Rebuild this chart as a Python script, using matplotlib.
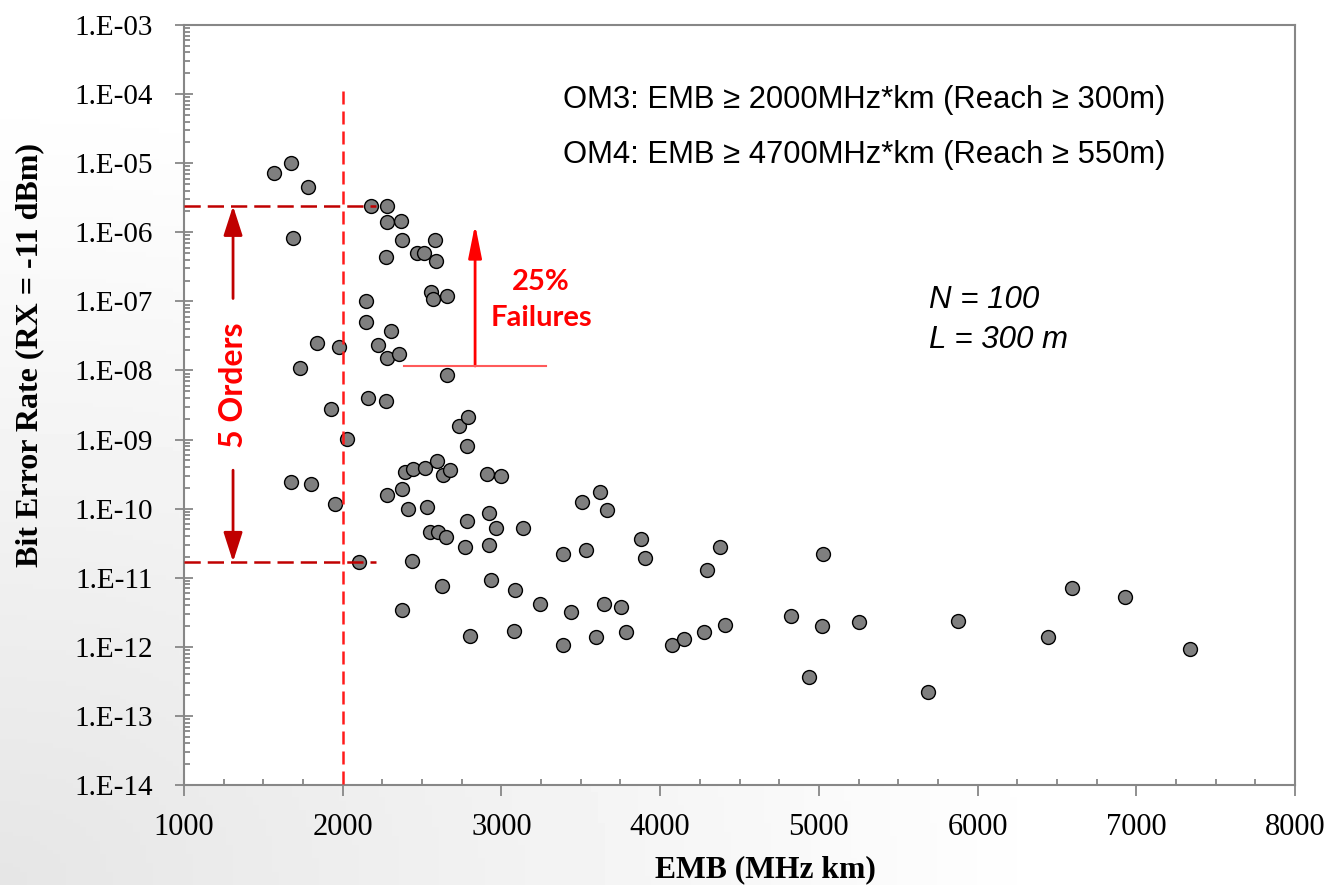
import numpy as np
import matplotlib.pyplot as plt
from matplotlib.ticker import FixedLocator, LogLocator, NullFormatter, FixedFormatter

# EMB (MHz km) and BER
emb = [1569, 1672, 1779, 2178, 2277, 2281, 2369, 1685, 2372, 2583,
       2271, 2470, 2512, 2586, 2556, 2571, 2655, 2149, 2149, 2306,
       2222, 1840, 1979, 2281, 2355, 1731, 2659, 2161, 2273, 1926,
       2731, 2788, 2029, 2785, 1674, 1802, 1953, 2277, 2372, 2393,
       2441, 2520, 2596, 2634, 2676, 2413, 2531, 2785, 2550, 2602,
       2651, 2772, 2101, 2435, 2624, 2372, 2804, 2907, 2996, 2924,
       2964, 3138, 2924, 2934, 3088, 3245, 3440, 3648, 3752, 3077,
       3386, 3594, 3783, 4077, 4152, 3506, 3619, 3663, 3386, 3531,
       3881, 3907, 4379, 4294, 5028, 6597, 4277, 4411, 4825, 5020,
       5251, 5875, 6442, 4938, 5690, 6929, 7337]
ber = [7.2e-6, 1.0e-5, 4.5e-6, 2.4e-6, 2.4e-6, 1.42e-6, 1.45e-6, 8.3e-7, 7.8e-7, 7.7e-7,
       4.4e-7, 5.0e-7, 5.0e-7, 3.9e-7, 1.36e-7, 1.09e-7, 1.19e-7, 1.0e-7, 5.1e-8, 3.7e-8,
       2.33e-8, 2.5e-8, 2.18e-8, 1.51e-8, 1.75e-8, 1.07e-8, 8.5e-9, 3.99e-9, 3.66e-9, 2.8e-9,
       1.59e-9, 2.12e-9, 1.03e-9, 8.1e-10, 2.41e-10, 2.31e-10, 1.16e-10, 1.58e-10, 1.95e-10, 3.4e-10,
       3.7e-10, 3.93e-10, 4.96e-10, 3.11e-10, 3.63e-10, 9.8e-11, 1.05e-10, 6.6e-11, 4.6e-11, 4.56e-11,
       3.95e-11, 2.74e-11, 1.69e-11, 1.72e-11, 7.6e-12, 3.36e-12, 1.44e-12, 3.22e-10, 2.97e-10, 8.7e-11,
       5.2e-11, 5.2e-11, 2.96e-11, 9.3e-12, 6.6e-12, 4.15e-12, 3.21e-12, 4.1e-12, 3.79e-12, 1.67e-12,
       1.07e-12, 1.37e-12, 1.62e-12, 1.08e-12, 1.31e-12, 1.25e-10, 1.73e-10, 9.7e-11, 2.17e-11, 2.53e-11,
       3.65e-11, 1.94e-11, 2.74e-11, 1.30e-11, 2.19e-11, 7.1e-12, 1.62e-12, 2.08e-12, 2.78e-12, 1.99e-12,
       2.3e-12, 2.35e-12, 1.38e-12, 3.68e-13, 2.24e-13, 5.2e-12, 9.3e-13]

x_ticks = [1000, 2000, 3000, 4000, 5000, 6000, 7000, 8000]
y_ticks = [1e-14, 1e-13, 1e-12, 1e-11, 1e-10, 1e-9, 1e-8, 1e-7, 1e-6, 1e-5, 1e-4, 1e-3]
y_labels = ["1.E-14", "1.E-13", "1.E-12", "1.E-11", "1.E-10", "1.E-09",
            "1.E-08", "1.E-07", "1.E-06", "1.E-05", "1.E-04", "1.E-03"]

om_lines = ["OM3: EMB \u2265 2000MHz*km (Reach \u2265 300m)",
            "OM4: EMB \u2265 4700MHz*km (Reach \u2265 550m)"]

gray = "#878787"
fig = plt.figure(figsize=(13.29, 8.85), dpi=100)

# faint background shading, darker at the lower left
bg = fig.add_axes([0, 0, 1, 1], zorder=-5)
gx, gy = np.meshgrid(np.linspace(0, 1, 200), np.linspace(0, 1, 200))
shade = 1 - 0.10 * np.clip(1 - np.hypot(gx / 0.8, gy / 0.9), 0, 1)
bg.imshow(shade, cmap="gray", vmin=0, vmax=1, extent=[0, 1, 0, 1], origin="lower", aspect="auto")
bg.axis("off")

ax = fig.add_axes([184 / 1329, 1 - 785 / 885, 1111 / 1329, 760 / 885])
ax.set_facecolor("white")

ax.scatter(emb, ber, s=100, facecolor="#7f7f7f", edgecolor="black", linewidth=1, zorder=3)

ax.set_yscale("log")
ax.set_xlim(1000, 8000)
ax.set_ylim(1e-14, 1e-3)

ax.xaxis.set_major_locator(FixedLocator(x_ticks))
ax.xaxis.set_minor_locator(FixedLocator(np.arange(1000, 8001, 250)))
ax.yaxis.set_major_locator(FixedLocator(y_ticks))
ax.yaxis.set_major_formatter(FixedFormatter(y_labels))
ax.yaxis.set_minor_locator(LogLocator(base=10, subs=np.arange(2, 10), numticks=30))
ax.yaxis.set_minor_formatter(NullFormatter())

for sp in ax.spines.values():
    sp.set_color(gray)
    sp.set_linewidth(1.5)

ax.tick_params(axis="x", which="major", direction="out", length=8, width=1.3, color=gray,
               pad=12, labelsize=22, labelfontfamily="Liberation Serif")
ax.tick_params(axis="x", which="minor", direction="in", length=4, width=1.3, color=gray)
ax.tick_params(axis="y", which="major", direction="inout", length=13, width=1.3, color=gray,
               pad=16, labelsize=21, labelfontfamily="Liberation Serif")
ax.tick_params(axis="y", which="minor", direction="in", length=4, width=1.3, color=gray)
ax.tick_params(top=False, right=False, which="both")

ax.set_xlabel("EMB (MHz km)", family="Liberation Serif", fontweight="bold", fontsize=22.8, va="center")
ax.xaxis.set_label_coords(0.523, -0.112)
ax.set_ylabel("Bit Error Rate (RX = -11 dBm)", family="Liberation Serif", fontweight="bold",
              fontsize=23, va="center")
ax.yaxis.set_label_coords(-0.1386, 0.566)

# 2000 MHz km limit and 5-orders band
ax.plot([2000, 2000], [1.1e-4, 1e-14], color="#ff1a1a", lw=1.8, dashes=(5.2, 2.8), zorder=4)
ax.plot([1000, 2210], [2.4e-6, 2.4e-6], color="#c00000", lw=1.8, dashes=(6.5, 2.8), zorder=4)
ax.plot([1000, 2210], [1.7e-11, 1.7e-11], color="#c00000", lw=1.8, dashes=(6.5, 2.8), zorder=4)

head = "-|>,head_length=0.9,head_width=0.29"
ax.annotate("", xy=(1309, 2.4e-6), xytext=(1309, 1.1e-7),
            arrowprops=dict(arrowstyle=head, color="#c00000", lw=2, mutation_scale=20,
                            shrinkA=0, shrinkB=0))
ax.annotate("", xy=(1309, 1.7e-11), xytext=(1309, 3.6e-10),
            arrowprops=dict(arrowstyle=head, color="#c00000", lw=2, mutation_scale=20,
                            shrinkA=0, shrinkB=0))
ax.text(1309, 6.1e-9, "5 Orders", rotation=90, color="#ff0000", fontweight="bold",
        family="Lato", fontsize=23, ha="center", va="center")

# 25% failures marker
ax.plot([2386, 3281], [1.16e-8, 1.16e-8], color="#ff5a5a", lw=1.5, zorder=4)
ax.annotate("", xy=(2834, 1.3e-6), xytext=(2834, 1.16e-8),
            arrowprops=dict(arrowstyle="-|>,head_length=1.0,head_width=0.2", color="#ff0000",
                            lw=2, mutation_scale=20, shrinkA=0, shrinkB=0))
ax.text(3249, 1.88e-7, "25%", color="#ff0000", fontweight="bold", family="Lato",
        fontsize=21, ha="center", va="center")
ax.text(3249, 5.7e-8, "Failures", color="#ff0000", fontweight="bold", family="Lato",
        fontsize=21, ha="center", va="center")

ax.text(0.341, 0.901, om_lines[0], transform=ax.transAxes, family="Liberation Sans",
        fontsize=22.3, va="center", ha="left")
ax.text(0.341, 0.829, om_lines[1], transform=ax.transAxes, family="Liberation Sans",
        fontsize=22.3, va="center", ha="left")
ax.text(0.671, 0.638, "N = 100", transform=ax.transAxes, family="Liberation Sans",
        style="italic", fontsize=22.5, va="center", ha="left")
ax.text(0.671, 0.586, "L = 300 m", transform=ax.transAxes, family="Liberation Sans",
        style="italic", fontsize=22.5, va="center", ha="left")

fig.savefig("out.png", dpi=100)
